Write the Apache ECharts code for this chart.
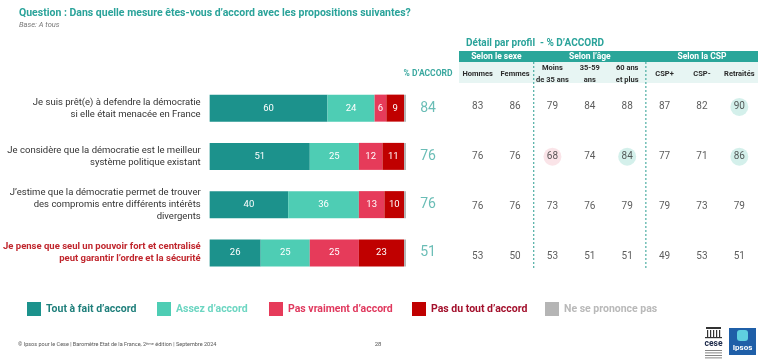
<!DOCTYPE html>
<html><head><meta charset="utf-8">
<script src="https://cdn.jsdelivr.net/npm/echarts@6/dist/echarts.min.js"></script>
<style>html,body{margin:0;padding:0;background:#fff}#c{width:767px;height:362px}</style>
</head><body><div id="c"></div>
<script>
const statements = [
  "Je suis prêt(e) à defendre la démocratie\nsi elle était menacée en France",
  "Je considère que la démocratie est le meilleur\nsystème politique existant",
  "J’estime que la démocratie permet de trouver\ndes compromis entre différents intérêts\ndivergents",
  "Je pense que seul un pouvoir fort et centralisé\npeut garantir l’ordre et la sécurité"
];
const seriesNames = ["Tout à fait d’accord","Assez d’accord","Pas vraiment d’accord","Pas du tout d’accord","Ne se prononce pas"];
const toutAFait   = [60,51,40,26];
const assez       = [24,25,36,25];
const pasVraiment = [6,12,13,25];
const pasDuTout   = [9,11,10,23];
const nsp         = [1,1,1,1];
const totalAccord = [84,76,76,51];
const totalHeader = ["% D’ACCORD"];
const profileColumns = ["Hommes","Femmes","Moins\nde 35 ans","35-59\nans","60 ans\net plus","CSP+","CSP-","Retraités"];
const profileGroups = ["Selon le sexe","Selon l’âge","Selon la CSP"];
const groupSpans = [[0,1],[2,4],[5,7]];
const profileValues = [
  [83,86,79,84,88,87,82,90],
  [76,76,68,74,84,77,71,86],
  [76,76,73,76,79,79,73,79],
  [53,50,53,51,51,49,53,51]
];
const highlightHigh = [[7,0],[4,1],[7,1]]; // [col,row]
const highlightLow  = [[2,1]];

const FF = 'Roboto, "Noto Sans", sans-serif';
const colors = ['#1c928c','#4ecdb4','#e63b5a','#c00000','#b5b5b5'];
const legendTextColors = ['#1f7f7b','#6dd6c2','#e0395e','#a3102c','#b9b9b9'];
const legendLefts = [22,152,264,407,540];
const rowIdx = [0,1,2,3];
const barData = [toutAFait,assez,pasVraiment,pasDuTout,nsp];

const tableData = [];
profileValues.forEach((row,r)=>row.forEach((v,c)=>tableData.push([c,r,v])));

const chart = echarts.init(document.getElementById('c'));
const option = {
  animation:false,
  textStyle:{fontFamily:FF},
  title:[
    {text:'Question : Dans quelle mesure êtes-vous d’accord avec les propositions suivantes?',
     subtext:'Base: A tous', left:14, top:3, itemGap:2,
     textStyle:{fontSize:10.5,fontWeight:'bold',color:'#2aa39a',fontFamily:FF},
     subtextStyle:{fontSize:7.5,fontStyle:'italic',color:'#777',fontFamily:FF}},
    {text:'Détail par profil  - % D’ACCORD', left:461, top:33,
     textStyle:{fontSize:10,fontWeight:'bold',color:'#2aa39a',fontFamily:FF}}
  ],
  legend: seriesNames.map((n,i)=>({
    data:[{name:n,textStyle:{color:legendTextColors[i]}}],
    left:legendLefts[i], top:297, itemWidth:14, itemHeight:14, icon:'rect', selectedMode:false,
    textStyle:{fontSize:10.5,fontWeight:'bold',fontFamily:FF}
  })),
  grid:[
    {left:209,width:197,top:84,height:193},
    {left:410,width:36,top:84,height:193},
    {left:459,width:299,top:82,height:199}
  ],
  xAxis:[
    {gridIndex:0,type:'value',min:0,max:100,show:false},
    {gridIndex:1,type:'category',data:totalHeader,position:'top',
     axisLine:{show:false},axisTick:{show:false},splitLine:{show:false},
     axisLabel:{margin:10,verticalAlign:'middle',fontSize:8.5,fontWeight:'bold',color:'#3aa89f',fontFamily:FF}},
    {gridIndex:2,type:'category',data:profileColumns,position:'top',
     axisLine:{show:false},axisTick:{show:false},splitLine:{show:false},
     axisLabel:{margin:8,interval:0,verticalAlign:'middle',lineHeight:12,fontSize:7.5,fontWeight:'bold',color:'#2b2b2b',fontFamily:FF}}
  ],
  yAxis:[
    {gridIndex:0,type:'category',data:statements,inverse:true,
     axisLine:{show:false},axisTick:{show:false},
     axisLabel:{margin:9,formatter:(v,i)=> i===3?'{r|'+v+'}':'{n|'+v+'}',
       rich:{n:{fontSize:9.5,lineHeight:12,color:'#333',align:'right',fontFamily:FF},
             r:{fontSize:9.5,lineHeight:12,color:'#c0262d',fontWeight:'bold',align:'right',fontFamily:FF}}}},
    {gridIndex:1,type:'category',data:rowIdx,inverse:true,show:false},
    {gridIndex:2,type:'category',data:rowIdx,inverse:true,show:false}
  ],
  series:[
    ...barData.map((d,i)=>({
      type:'bar',name:seriesNames[i],stack:'s',xAxisIndex:0,yAxisIndex:0,
      data:d,barWidth:27,itemStyle:{color:colors[i]},
      label:{show:i<4,position:'inside',color:'#fff',fontSize:9.5,fontFamily:FF}
    })),
    {type:'scatter',xAxisIndex:1,yAxisIndex:1,symbolSize:1,itemStyle:{color:'rgba(0,0,0,0)'},
     data:totalAccord.map((v,r)=>[0,r,v]),
     label:{show:true,position:'inside',formatter:p=>p.value[2],fontSize:14,color:'#45ada4',fontFamily:FF}},
    {type:'scatter',xAxisIndex:2,yAxisIndex:2,symbolSize:18,itemStyle:{color:'#c9ece6'},z:1,
     data:highlightHigh,silent:true},
    {type:'scatter',xAxisIndex:2,yAxisIndex:2,symbolSize:18,itemStyle:{color:'#f9dde2'},z:1,
     data:highlightLow,silent:true},
    {type:'scatter',xAxisIndex:2,yAxisIndex:2,symbolSize:1,itemStyle:{color:'rgba(0,0,0,0)'},z:3,
     data:tableData,
     label:{show:true,position:'inside',formatter:p=>p.value[2],fontSize:10,color:'#333',fontFamily:FF}}
  ]
};
chart.setOption(option);

// header graphics derived from the table axis
const cx = profileColumns.map((c,i)=>chart.convertToPixel({xAxisIndex:2},i));
const step = cx[1]-cx[0];
const x0 = cx[0]-step/2, x1 = cx[cx.length-1]+step/2;
const g = [
  {type:'rect',shape:{x:x0,y:51,width:x1-x0,height:11},style:{fill:'#2aa69a'},z:0},
  {type:'rect',shape:{x:x0,y:62,width:x1-x0,height:21},style:{fill:'#e7f5f3'},z:-1}
];
groupSpans.forEach((s,k)=>{
  const a = cx[s[0]]-step/2, b = cx[s[1]]+step/2;
  g.push({type:'text',x:(a+b)/2,y:56.5,style:{text:profileGroups[k],fill:'#fff',font:'bold 8.5px '+FF,textAlign:'center',textVerticalAlign:'middle'},z:2});
  if(k>0){
    g.push({type:'line',shape:{x1:a,y1:62,x2:a,y2:270},style:{stroke:'#2a9d90',lineWidth:1,lineDash:[2,2]},z:2});
  }
});
// footer
g.push({type:'text',x:18,y:345,style:{rich:{t:{fontSize:5.5,fill:'#555',fontFamily:FF},s:{fontSize:4,fill:'#555',verticalAlign:'top',fontFamily:FF}},
  text:'{t|© Ipsos pour le Cese | Baromètre Etat de la France, 2}{s|ème}{t| édition | Septembre 2024}',textVerticalAlign:'middle'}});
g.push({type:'text',x:378,y:344,style:{text:'28',font:'6px '+FF,fill:'#555',textAlign:'center',textVerticalAlign:'middle'}});
// logos
g.push({type:'rect',shape:{x:706,y:327,width:15,height:2},style:{fill:'#333'}});
for(let i=0;i<5;i++) g.push({type:'rect',shape:{x:707+i*3,y:330,width:1.2,height:7},style:{fill:'#333'}});
g.push({type:'rect',shape:{x:705,y:337,width:17,height:1.2},style:{fill:'#333'}});
g.push({type:'text',x:713.5,y:344,style:{text:'cese',font:'bold 8.5px '+FF,fill:'#1d2a4a',textAlign:'center',textVerticalAlign:'middle'}});
for(let i=0;i<4;i++) g.push({type:'rect',shape:{x:705,y:350+i*2.5,width:17,height:0.8},style:{fill:'#666'}});
g.push({type:'rect',shape:{x:729,y:328,width:27,height:27},style:{fill:'#1f5fa8'}});
g.push({type:'rect',shape:{x:737,y:330,width:11,height:11,r:3},style:{fill:'#5fd0e0'}});
g.push({type:'text',x:742.5,y:348,style:{text:'Ipsos',font:'bold 8px '+FF,fill:'#fff',textAlign:'center',textVerticalAlign:'middle'}});
chart.setOption({graphic:g});
</script>
</body></html>
